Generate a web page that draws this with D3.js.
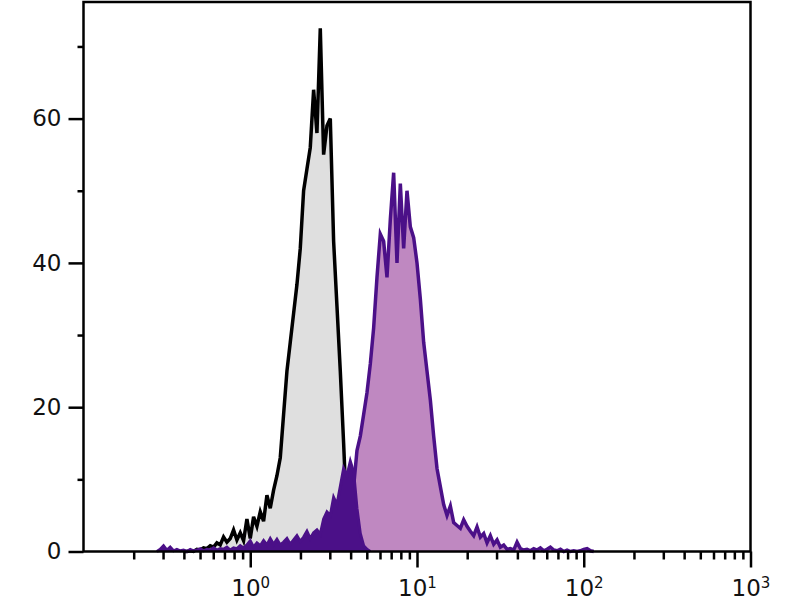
<!DOCTYPE html>
<html>
<head>
<meta charset="utf-8">
<script src="https://cdn.jsdelivr.net/npm/d3@7"></script>
<style>
  html, body { margin: 0; padding: 0; background: #fff; }
  svg { display: block; }
</style>
</head>
<body>
<svg id="chart" width="800" height="600"></svg>
<script>
// ---- Data (log-spaced channel bins: log10 value = binLogStart + i * binLogStep) ----
const binLogStart = -0.6;
const binLogStep = 0.02;

// Unstained / control histogram (grey), starting at bin 10
const grayStartBin = 10;
const grayCounts = [0, 0, 0.1, 0, 0.3, 0.2, 0.5, 0.4, 0.8, 0.6,
  1.2, 0.9, 2.0, 1.3, 1.8, 3.0, 1.6, 2.6, 1.5, 4.5,
  1.8, 4.8, 3.5, 5.5, 4.2, 7.8, 6.0, 8.5, 10.5, 13.0,
  19.0, 25.0, 29.0, 33.0, 37.0, 42.0, 50.0, 53.0, 56.0, 64.0,
  58.0, 72.5, 55.0, 59.0, 60.0, 43.0, 34.0, 25.0, 15.0, 4.0, 0];

// Low-intensity tail of stained sample (dark purple), starting at bin 2
const darkStartBin = 2;
const darkCounts = [0, 0.3, 0.8, 0.2, 0.6, 0.1, 0.3, 0.1, 0.2, 0,
  0.3, 0.1, 0.2, 0.4, 0.1, 0.3, 0.2, 0.5, 0.2, 0.4,
  0.3, 0.6, 0.2, 0.5, 0.4, 0.8, 0.5, 0.9, 1.5, 0.6,
  1.2, 0.8, 1.5, 0.9, 1.8, 1.0, 1.7, 0.9, 1.3, 1.8,
  1.0, 1.6, 2.2, 1.4, 2.0, 2.8, 1.8, 2.6, 3.0, 2.4,
  4.5, 5.5, 5.0, 7.5, 6.5, 9.0, 11.5, 10.5, 12.5, 11.0,
  6.0, 2.5, 0.8, 0.3, 0];

// Stained sample histogram (light purple), starting at bin 59
const purpleStartBin = 59;
const purpleCounts = [0, 3, 9, 14, 16, 19, 22, 26, 31, 38,
  44, 43, 38, 46, 52.5, 40, 51, 42, 50, 45,
  43.5, 40, 35, 29, 25, 21, 16, 11.5, 9, 6.5,
  5, 6.3, 4, 3.6, 3.2, 4.4, 3.5, 2.8, 2.2, 3.4,
  2, 2.5, 1.2, 2.2, 1, 1.6, 0.6, 0.9, 0.3, 0.4,
  0.2, 1.3, 0.4, 0.2, 0.3, 0.1, 0.4, 0.2, 0.5, 0.1,
  0.3, 0.6, 0.2, 0.1, 0.3, 0, 0.2, 0, 0.1, 0,
  0.1, 0.3, 0.4, 0.1, 0];

const yMajorTicks = [0, 20, 40, 60];
const yMinorTicks = [10, 30, 50, 70];
const xMajorTicks = [1, 10, 100, 1000];
const xMajorExponents = ["0", "1", "2", "3"];
const xMinorTicks = [0.2, 0.3, 0.4, 0.5, 0.6, 0.7, 0.8, 0.9,
  2, 3, 4, 5, 6, 7, 8, 9,
  20, 30, 40, 50, 60, 70, 80, 90,
  200, 300, 400, 500, 600, 700, 800, 900];

(function () {
  // ---- Layout ----
  const pLeft = 83.5, pRight = 750.5, pTop = 2, pBottom = 551.5;
  const svg = d3.select("#chart");

  const x = d3.scaleLog().domain([0.1, 1000]).range([pLeft, pRight]);
  const y = d3.scaleLinear().domain([0, 76.16]).range([pBottom, pTop]);

  function toPoints(startBin, counts) {
    return counts.map((c, k) => ({ v: Math.pow(10, binLogStart + (startBin + k) * binLogStep), c }));
  }

  const area = d3.area().x(d => x(d.v)).y0(y(0)).y1(d => y(d.c));
  const line = d3.line().x(d => x(d.v)).y(d => y(d.c));

  const plot = svg.append("g");

  function drawHist(points, fill, stroke, width) {
    plot.append("path").datum(points).attr("d", area).attr("fill", fill);
    plot.append("path").datum(points).attr("d", line)
      .attr("fill", "none").attr("stroke", stroke).attr("stroke-width", width)
      .attr("stroke-linejoin", "miter").attr("stroke-miterlimit", 4);
  }

  drawHist(toPoints(grayStartBin, grayCounts), "#dfdfdf", "#000", 3.5);
  drawHist(toPoints(purpleStartBin, purpleCounts), "#bf88c1", "#4b1088", 3.5);
  drawHist(toPoints(darkStartBin, darkCounts), "#4b1088", "#4b1088", 3);

  // Frame
  svg.append("rect").attr("x", pLeft).attr("y", pTop)
    .attr("width", pRight - pLeft).attr("height", pBottom - pTop)
    .attr("fill", "none").attr("stroke", "#000").attr("stroke-width", 2.5);

  const font = "'DejaVu Sans', Verdana, sans-serif";

  // Y axis
  const yAxisMajor = svg.append("g").attr("transform", `translate(${pLeft},0)`)
    .call(d3.axisLeft(y).tickValues(yMajorTicks).tickSize(15).tickPadding(7).tickFormat(d3.format("d")));
  const yAxisMinor = svg.append("g").attr("transform", `translate(${pLeft},0)`)
    .call(d3.axisLeft(y).tickValues(yMinorTicks).tickSize(6).tickFormat(""));

  // X axis
  const xAxisMajor = svg.append("g").attr("transform", `translate(0,${pBottom})`)
    .call(d3.axisBottom(x).tickValues(xMajorTicks).tickSize(16).tickFormat(""));
  const xAxisMinor = svg.append("g").attr("transform", `translate(0,${pBottom})`)
    .call(d3.axisBottom(x).tickValues(xMinorTicks).tickSize(8).tickFormat(""));

  [yAxisMajor, yAxisMinor, xAxisMajor, xAxisMinor].forEach(g => {
    g.select(".domain").remove();
    g.selectAll(".tick line").attr("stroke", "#000").attr("stroke-width", 2.5);
    g.selectAll("text").attr("font-family", font).attr("font-size", 23).attr("fill", "#111");
  });

  // X tick labels with superscript exponents
  xAxisMajor.selectAll(".tick").each(function (d, i) {
    const t = d3.select(this).select("text");
    t.text(null).attr("y", 44).attr("dy", null)
      .attr("text-anchor", "middle")
      .attr("font-family", font).attr("font-size", 23).attr("fill", "#111");
    t.append("tspan").text("10");
    t.append("tspan").attr("dy", -8).attr("font-size", 15).text(xMajorExponents[i]);
  });
})();
</script>
</body>
</html>
